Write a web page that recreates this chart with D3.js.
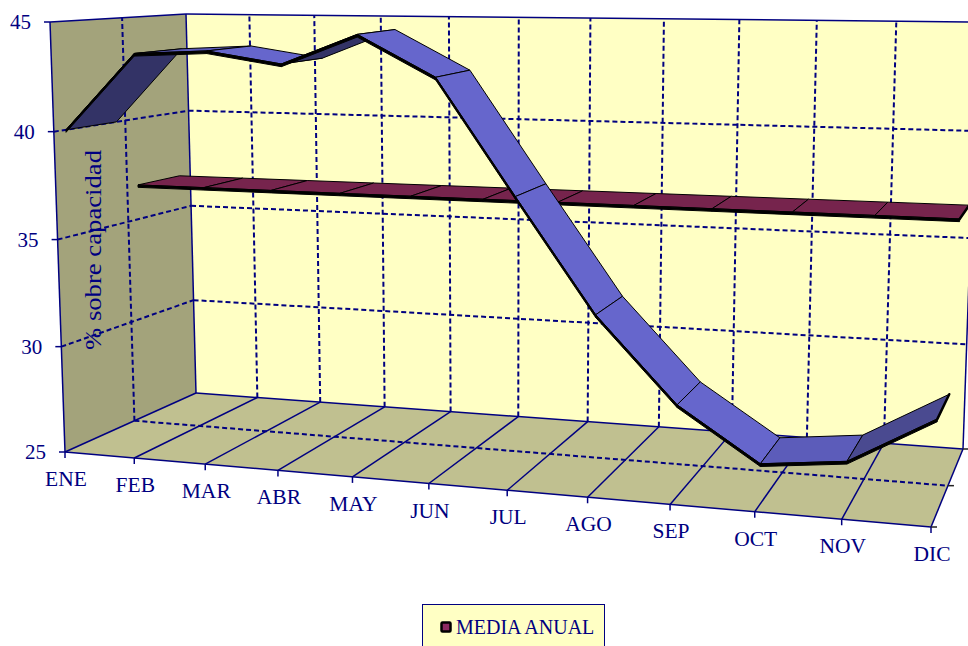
<!DOCTYPE html>
<html>
<head>
<meta charset="utf-8">
<script src="https://cdn.jsdelivr.net/npm/d3@7"></script>
<style>
  body { margin: 0; background: #fff; }
  svg { display: block; }
  text { font-family: "Liberation Serif", serif; fill: #000080; }
</style>
</head>
<body>
<div class="container"></div>
<script>
/********** the Data **********/
let months = ["ENE", "FEB", "MAR", "ABR", "MAY", "JUN", "JUL", "AGO", "SEP", "OCT", "NOV", "DIC"];
let capacidad = [40.0, 43.6, 43.8, 43.3, 44.7, 42.9, 37.8, 32.8, 29.1, 26.8, 27.2, 29.3];
let mediaAnual = [36.7, 36.7, 36.7, 36.7, 36.7, 36.7, 36.7, 36.7, 36.7, 36.7, 36.7, 36.7];
let valueTicks = [25, 30, 35, 40, 45];
let seriesName = "MEDIA ANUAL";
let axisTitle = "% sobre capacidad";

// one shade per ribbon segment, it depends on how the face meets the light
let blueShades = ["#333366", "#5a5ab8", "#6666cc", "#333366", "#6666cc", "#6666cc", "#6666cc", "#6666cc", "#6666cc", "#5c5cba", "#4a4a90"];

let navy = "#000080";

/***** the box of the 3D chart, as seen on the page *****/
let frontBottomLeft = [65, 452], frontBottomRight = [931, 527];
let backBottomLeft = [196, 393], backBottomRight = [963, 449];
let frontTopLeft = [50, 22], frontTopRight = [948, 42];
let backTopLeft = [186, 14], backTopRight = [978, 22];

/***** Scales *****/
let monthScale = d3.scalePoint().domain(months).range([0, 1]);
let valueScale = d3.scaleLinear().domain(valueTicks).range([0, 0.245, 0.494, 0.745, 1]);

// columns get wider towards the right because of the perspective
function widen(s) {
  return s / (s + 1.15 * (1 - s));
}

function mix(a, b, t) {
  return [a[0] + (b[0] - a[0]) * t, a[1] + (b[1] - a[1]) * t];
}

// month + value + depth (0 front, 1 back) -> page position
function project(month, value, depth) {
  let s = widen(monthScale(month));
  let t = valueScale(value);
  let front = mix(mix(frontBottomLeft, frontBottomRight, s), mix(frontTopLeft, frontTopRight, s), t);
  let back = mix(mix(backBottomLeft, backBottomRight, s), mix(backTopLeft, backTopRight, s), t);
  return mix(front, back, depth);
}

let first = months[0], last = months[months.length - 1];
let lowest = valueTicks[0], highest = valueTicks[valueTicks.length - 1];
let midDepth = 0.53;

let outline = d3.line().curve(d3.curveLinearClosed);
let segment = d3.line();

/***** append SVG *****/
let chart = d3.select(".container")
  .append("svg")
    .attr("class", "chart")
    .attr("width", 968)
    .attr("height", 646);

/***** walls and floor *****/
function face(points, fill) {
  chart.append("path").attr("d", outline(points)).attr("fill", fill);
}

face([project(first, lowest, 0), project(first, highest, 0), project(first, highest, 1), project(first, lowest, 1)], "#a3a37b");
face([project(first, lowest, 1), project(first, highest, 1), project(last, highest, 1), project(last, lowest, 1)], "#ffffc4");
face([project(first, lowest, 0), project(first, lowest, 1), project(last, lowest, 1), project(last, lowest, 0)], "#c0c090");

/***** gridlines *****/
function rule(a, b, dashed) {
  return chart.append("path")
    .attr("d", segment([a, b]))
    .attr("fill", "none")
    .attr("stroke", navy)
    .attr("stroke-width", dashed ? 2 : 1.5)
    .attr("stroke-dasharray", dashed ? "5 3" : null);
}

// value lines along left wall and back wall
valueTicks.slice(1, -1).forEach(v => {
  rule(project(first, v, 0), project(first, v, 1), true);
  rule(project(first, v, 1), project(last, v, 1), true);
});

// month lines on the back wall and on the floor
months.slice(1, -1).forEach(m => {
  rule(project(m, lowest, 1), project(m, highest, 1), true);
  rule(project(m, lowest, 0), project(m, lowest, 1), false);
});

// series divider on the left wall and across the floor
rule(project(first, lowest, midDepth), project(first, highest, midDepth), true);
rule(project(first, lowest, midDepth), project(last, lowest, midDepth), true);

/***** frame *****/
rule(project(first, lowest, 0), project(first, highest, 0), false);
rule(project(first, highest, 0), project(first, highest, 1), false);
rule(project(first, highest, 1), project(last, highest, 1), false);
rule(project(first, lowest, 1), project(first, highest, 1), false);
rule(project(first, lowest, 0), project(first, lowest, 1), false);
rule(project(first, lowest, 1), project(last, lowest, 1), false);
rule(project(first, lowest, 0), project(last, lowest, 0), false);
rule(project(last, lowest, 0), project(last, lowest, 1), false);
rule(project(last, lowest, 1), project(last, highest, 1), false);

/***** ticks and labels *****/
valueTicks.forEach(v => {
  let p = project(first, v, 0);
  rule([p[0] - 6, p[1]], p, false);
  chart.append("text")
    .attr("x", p[0] - 19)
    .attr("y", p[1] + 7)
    .attr("text-anchor", "end")
    .attr("font-size", 21)
    .text(v);
});

months.forEach(m => {
  let p = project(m, lowest, 0);
  rule(p, [p[0], p[1] + 6], false);
  chart.append("text")
    .attr("x", p[0] + 1)
    .attr("y", p[1] + 34)
    .attr("text-anchor", "middle")
    .attr("font-size", 21.5)
    .text(m);
});

// small depth ticks on the right end of the floor
[0, midDepth, 1].forEach(d => {
  let p = project(last, lowest, d);
  rule(p, [p[0] + 6, p[1]], false).attr("stroke", "#222");
});

chart.append("text")
  .attr("transform", "translate(101, 350) rotate(-90)")
  .attr("textLength", 200)
  .attr("lengthAdjust", "spacingAndGlyphs")
  .attr("font-size", 24)
  .text(axisTitle);

/***** ribbons *****/
function drawRibbon(values, nearDepth, farDepth, shadeOf) {
  let points = months.map((m, i) => ({month: m, value: values[i]}));
  let pairs = d3.pairs(points);

  let g = chart.append("g");

  // each segment: top face, then the thin black front face
  let seg = g.selectAll("g")
    .data(pairs)
    .join("g");

  seg.append("path")
    .attr("d", ([a, b]) => outline([
      project(a.month, a.value, nearDepth),
      project(b.month, b.value, nearDepth),
      project(b.month, b.value, farDepth),
      project(a.month, a.value, farDepth)
    ]))
    .attr("fill", (d, i) => shadeOf(i))
    .attr("stroke", "#000")
    .attr("stroke-width", 1)
    .attr("stroke-linejoin", "round");

  seg.append("path")
    .attr("d", ([a, b]) => outline([
      project(a.month, a.value, nearDepth),
      project(b.month, b.value, nearDepth),
      project(b.month, b.value - 0.12, nearDepth),
      project(a.month, a.value - 0.12, nearDepth)
    ]))
    .attr("fill", "#000")
    .attr("stroke", "#000")
    .attr("stroke-width", 1)
    .attr("stroke-linejoin", "round");

  // closing edge of the last segment
  let end = points[points.length - 1];
  g.append("path")
    .attr("d", segment([project(end.month, end.value, nearDepth), project(end.month, end.value, farDepth)]))
    .attr("stroke", "#000")
    .attr("stroke-width", 2.5)
    .attr("stroke-linecap", "round");
}

drawRibbon(mediaAnual, 0.61, 0.92, () => "#76244d");
drawRibbon(capacidad, 0.09, 0.465, i => blueShades[i]);

/***** legend *****/
let legend = chart.append("g");

legend.append("rect")
  .attr("x", 422.5)
  .attr("y", 604.5)
  .attr("width", 182)
  .attr("height", 60)
  .attr("fill", "#ffffc4")
  .attr("stroke", navy)
  .attr("stroke-width", 1);

legend.append("rect")
  .attr("x", 441.5)
  .attr("y", 622.5)
  .attr("width", 9)
  .attr("height", 9)
  .attr("rx", 1)
  .attr("fill", "#8c2a62")
  .attr("stroke", "#000")
  .attr("stroke-width", 2.5);

legend.append("text")
  .attr("x", 456)
  .attr("y", 634)
  .attr("font-size", 20)
  .text(seriesName);
</script>
</body>
</html>
